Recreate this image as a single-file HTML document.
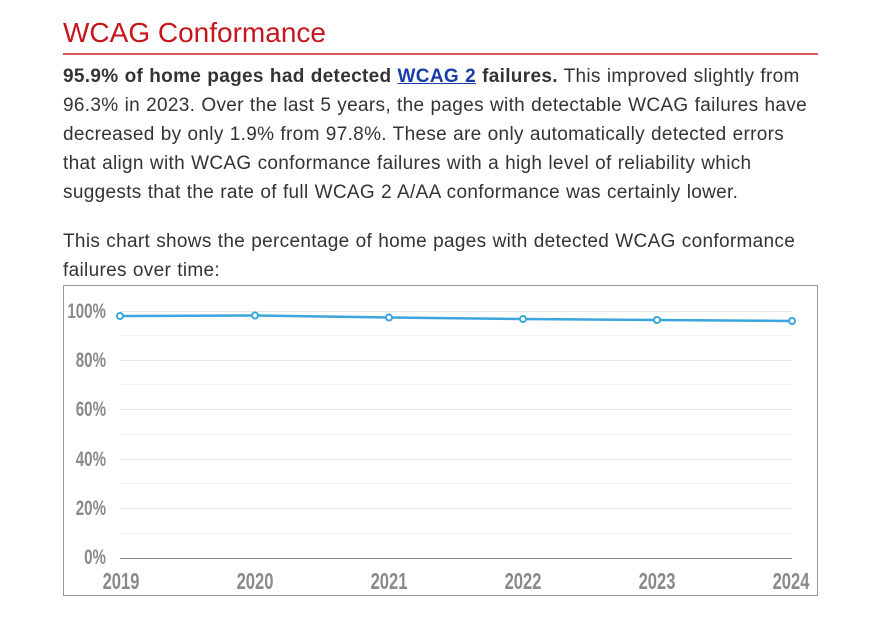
<!DOCTYPE html>
<html><head><meta charset="utf-8"><style>
body{margin:0;width:895px;height:624px;background:#fff;font-family:"Liberation Sans",sans-serif;color:#333;position:relative;overflow:hidden}
.t{position:absolute;left:63px;top:17px;font-size:28px;color:#c4161c}
.rule{position:absolute;left:63px;top:53px;width:755px;height:2px;background:#d9585d}
.l{position:absolute;left:63px;font-size:19px;letter-spacing:0.32px;word-spacing:0.5px;white-space:nowrap;color:#333}
a{color:#1a3ca8;font-weight:bold;text-decoration:underline}
.box{position:absolute;left:63px;top:285px;width:755px;height:311px;border:1px solid #999;box-sizing:border-box}
</style></head><body>
<div class="t">WCAG Conformance</div>
<div class="rule"></div>
<div class="l" style="top:66px"><b>95.9% of home pages had detected <a>WCAG 2</a> failures.</b> This improved slightly from</div>
<div class="l" style="top:95px">96.3% in 2023. Over the last 5 years, the pages with detectable WCAG failures have</div>
<div class="l" style="top:124px">decreased by only 1.9% from 97.8%. These are only automatically detected errors</div>
<div class="l" style="top:153px">that align with WCAG conformance failures with a high level of reliability which</div>
<div class="l" style="top:182px">suggests that the rate of full WCAG 2 A/AA conformance was certainly lower.</div>
<div class="l" style="top:231px">This chart shows the percentage of home pages with detected WCAG conformance</div>
<div class="l" style="top:260px">failures over time:</div>
<div class="box"></div>
<svg width="895" height="624" style="position:absolute;left:0;top:0">
<g stroke="#f3f3f3" stroke-width="1">
<line x1="120" x2="792" y1="335.5" y2="335.5"/><line x1="120" x2="792" y1="384.5" y2="384.5"/><line x1="120" x2="792" y1="434.5" y2="434.5"/><line x1="120" x2="792" y1="483.5" y2="483.5"/><line x1="120" x2="792" y1="533.5" y2="533.5"/>
</g>
<g stroke="#e6e6e6" stroke-width="1">
<line x1="120" x2="792" y1="311.5" y2="311.5"/><line x1="120" x2="792" y1="360.5" y2="360.5"/><line x1="120" x2="792" y1="409.5" y2="409.5"/><line x1="120" x2="792" y1="459.5" y2="459.5"/><line x1="120" x2="792" y1="508.5" y2="508.5"/>
</g>
<line x1="120" x2="792" y1="558.5" y2="558.5" stroke="#888" stroke-width="1"/>
<g font-family="Liberation Sans Narrow, Liberation Sans, sans-serif" font-weight="bold" fill="#8a8a8a" font-size="21" text-anchor="end">
<text x="106" y="318" transform="translate(106 0) scale(0.72 1) translate(-106 0)">100%</text>
<text x="106" y="367" transform="translate(106 0) scale(0.72 1) translate(-106 0)">80%</text>
<text x="106" y="416" transform="translate(106 0) scale(0.72 1) translate(-106 0)">60%</text>
<text x="106" y="466" transform="translate(106 0) scale(0.72 1) translate(-106 0)">40%</text>
<text x="106" y="515" transform="translate(106 0) scale(0.72 1) translate(-106 0)">20%</text>
<text x="106" y="564" transform="translate(106 0) scale(0.72 1) translate(-106 0)">0%</text>
</g>
<g font-family="Liberation Sans Narrow, Liberation Sans, sans-serif" font-weight="bold" fill="#8a8a8a" font-size="23" text-anchor="middle">
<text x="121" y="589" transform="translate(121 0) scale(0.72 1) translate(-121 0)">2019</text>
<text x="255" y="589" transform="translate(255 0) scale(0.72 1) translate(-255 0)">2020</text>
<text x="389" y="589" transform="translate(389 0) scale(0.72 1) translate(-389 0)">2021</text>
<text x="523" y="589" transform="translate(523 0) scale(0.72 1) translate(-523 0)">2022</text>
<text x="657" y="589" transform="translate(657 0) scale(0.72 1) translate(-657 0)">2023</text>
<text x="791" y="589" transform="translate(791 0) scale(0.72 1) translate(-791 0)">2024</text>
</g>
<polyline points="120,316 255,315.5 389,317.5 523,319 657,320 792,321" fill="none" stroke="#3aa6dc" stroke-width="2.5"/>
<g fill="#fff" stroke="#3aa6dc" stroke-width="2">
<circle cx="120" cy="316" r="3"/><circle cx="255" cy="315.5" r="3"/><circle cx="389" cy="317.5" r="3"/><circle cx="523" cy="319" r="3"/><circle cx="657" cy="320" r="3"/><circle cx="792" cy="321" r="3"/>
</g>
</svg>
</body></html>
